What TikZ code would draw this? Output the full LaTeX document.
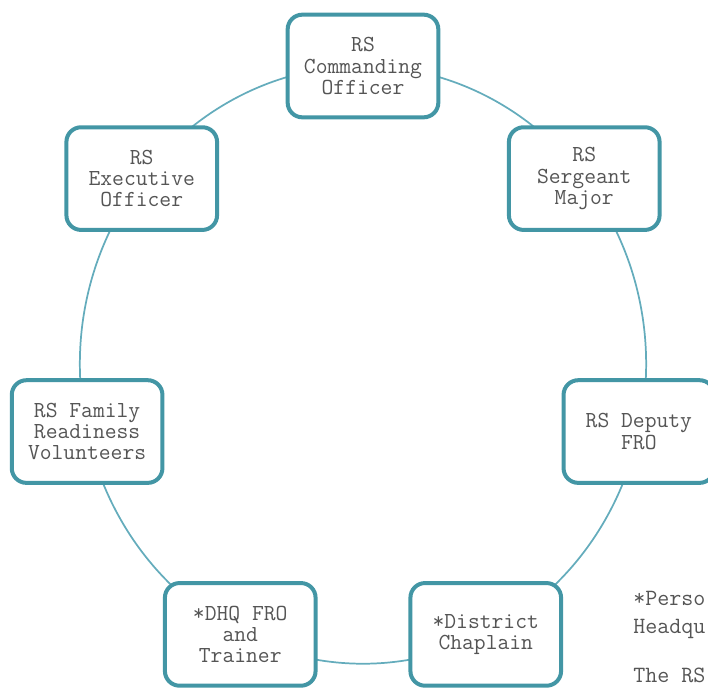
\documentclass[tikz,border=0pt]{standalone}
\usepackage{fontspec}
\usetikzlibrary{backgrounds,calc}
\definecolor{boxteal}{RGB}{67,150,165}
\definecolor{linkteal}{RGB}{100,172,188}
\definecolor{txtgray}{RGB}{85,85,85}
\begin{document}
\begin{tikzpicture}[x=0.75pt,y=0.75pt,
  role/.style={draw=boxteal, line width=3pt, rounded corners=11pt, fill=white,
    minimum width=113pt, minimum height=77pt, align=center, text=txtgray,
    font=\ttfamily\fontsize{17.2pt}{16pt}\selectfont, inner sep=2pt},
  link/.style={draw=linkteal, line width=1.3pt, looseness=0.9},
  notetext/.style={anchor=base west, inner sep=0pt, text=txtgray,
    font=\ttfamily\fontsize{17.5pt}{18pt}\selectfont}]
\useasboundingbox (0,0) rectangle (708,687);
\coordinate (ctr) at (363,322);
\node[role] (co)   at ($(ctr)+(90:283 and 299)$)      {RS\\Commanding\\Officer};
\node[role] (sm)   at ($(ctr)+(38.57:283 and 299)$)   {RS\\Sergeant\\Major};
\node[role] (dep)  at ($(ctr)+(-12.86:283 and 299)$)  {RS Deputy\\FRO};
\node[role] (chap) at ($(ctr)+(-64.29:283 and 299)$)  {*District\\Chaplain};
\node[role] (dhq)  at ($(ctr)+(-115.71:283 and 299)$) {*DHQ FRO\\and\\Trainer};
\node[role] (fam)  at ($(ctr)+(-167.14:283 and 299)$) {RS Family\\Readiness\\Volunteers};
\node[role] (xo)   at ($(ctr)+(141.43:283 and 299)$)  {RS\\Executive\\Officer};
\begin{scope}[on background layer]
\draw[link] (co.center)   to[out=0,     in=127]    (sm.center);
\draw[link] (sm.center)   to[out=-53,   in=77.8]   (dep.center);
\draw[link] (dep.center)  to[out=-102.2,in=27]     (chap.center);
\draw[link] (chap.center) to[out=-153,  in=-27]    (dhq.center);
\draw[link] (dhq.center)  to[out=153,   in=-77.8]  (fam.center);
\draw[link] (fam.center)  to[out=102.2, in=-127]   (xo.center);
\draw[link] (xo.center)   to[out=53,    in=180]    (co.center);
\end{scope}
\node[notetext] (note1) at (633,82) {*Perso};
\node[notetext] (note2) at (633,54) {Headqu};
\node[notetext] (note3) at (633,5)  {The RS};
\end{tikzpicture}
\end{document}
